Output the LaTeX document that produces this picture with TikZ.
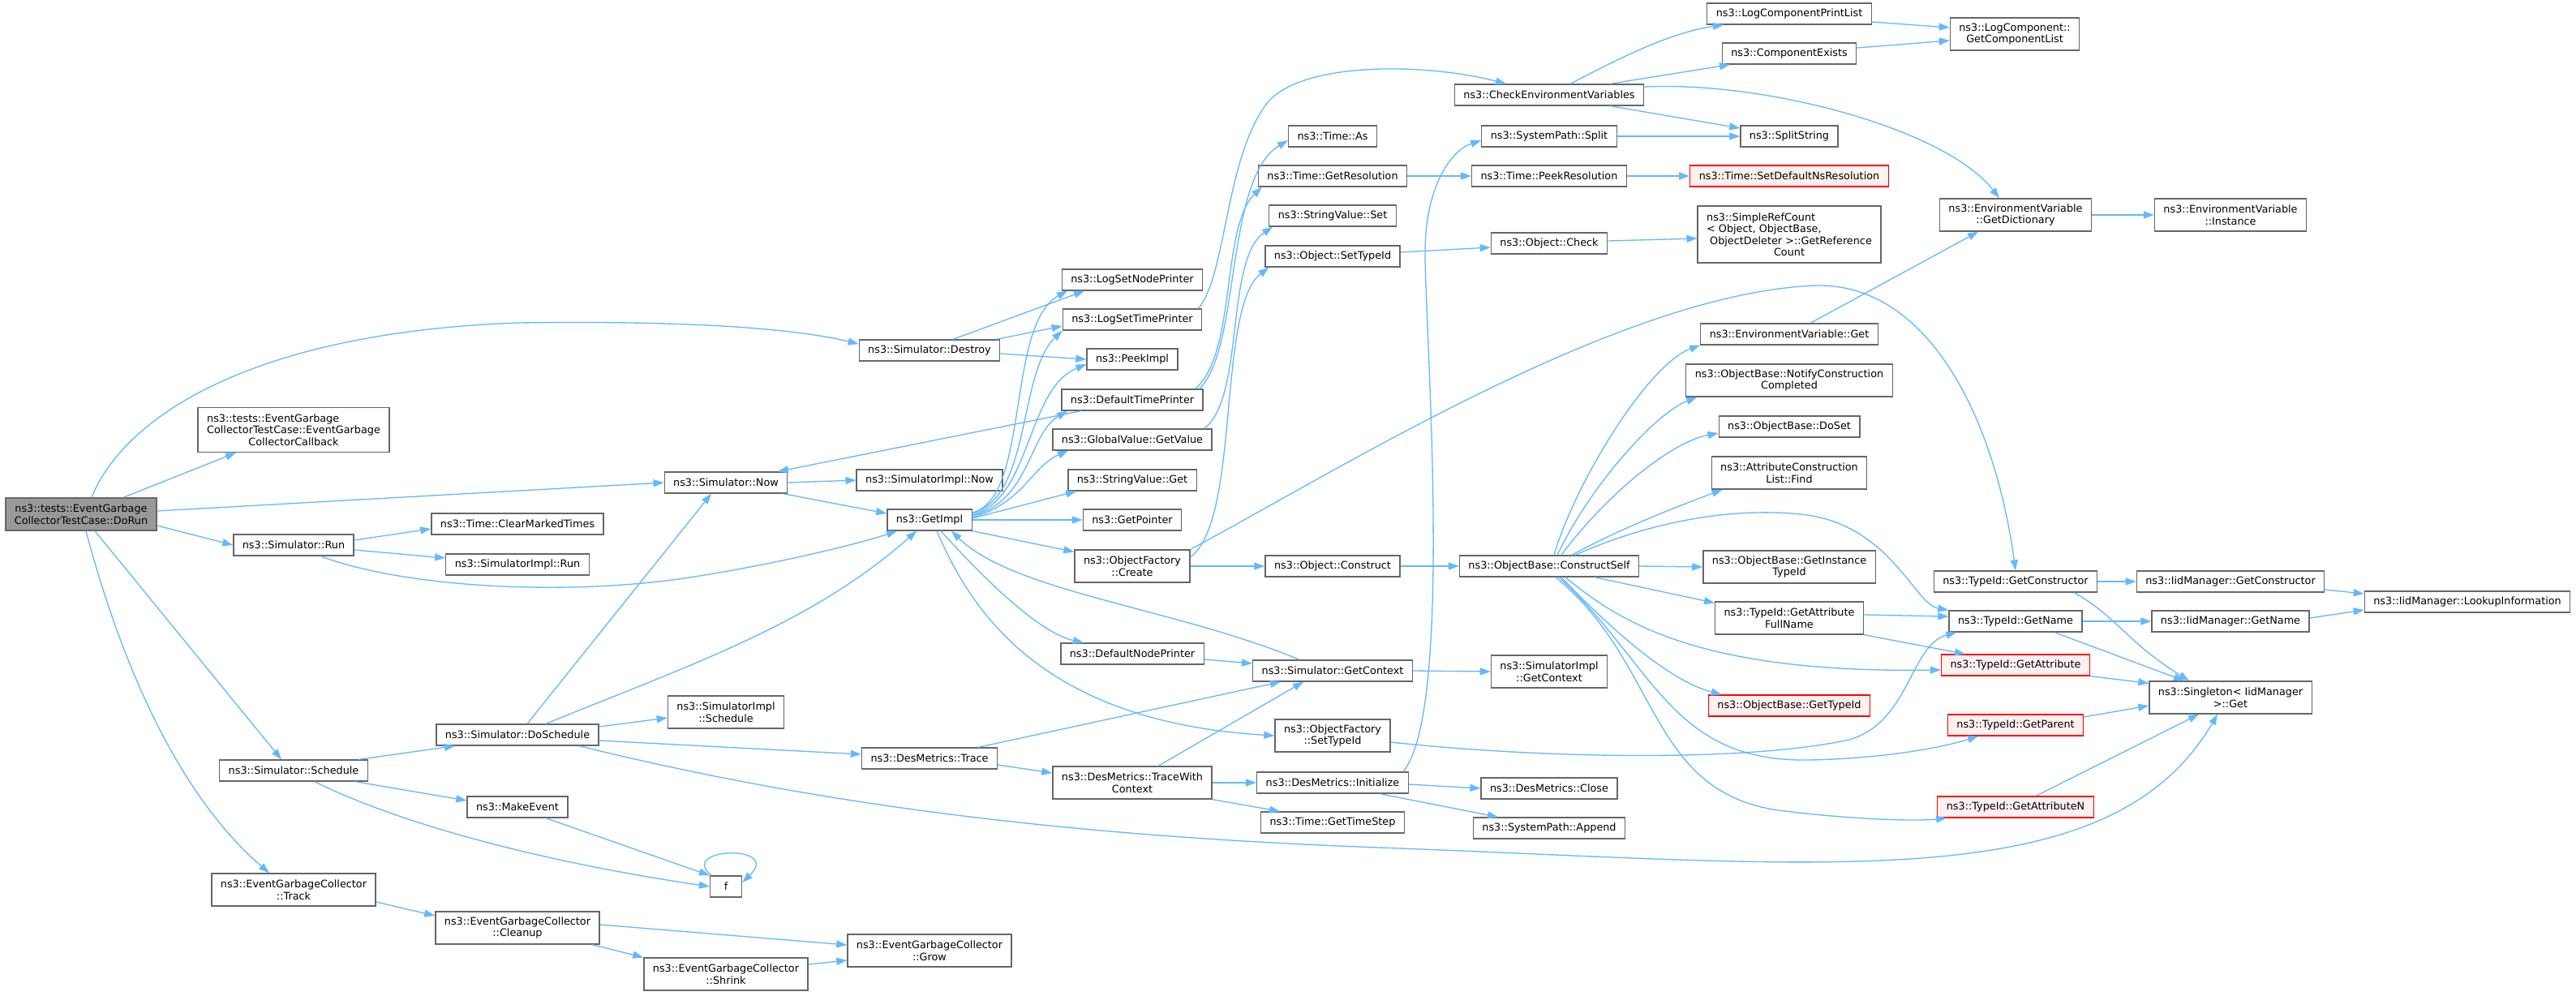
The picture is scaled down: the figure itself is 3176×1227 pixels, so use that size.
\documentclass[tikz,border=0pt]{standalone}
\usepackage{fontspec}
\setmainfont{DejaVu Sans}
\usepackage{xcolor}
\usepackage{tikz}
\usetikzlibrary{arrows.meta}
\definecolor{edgeblue}{HTML}{63B8FF}
\definecolor{boxgray}{HTML}{666666}
\definecolor{rootfill}{HTML}{999999}
\definecolor{missfill}{HTML}{FFF0F0}

\begin{document}
\begin{tikzpicture}[>={Triangle[length=13pt,width=9pt]}, x=1pt, y=-1pt,
	every node/.style={font=\fontsize{12.8}{14.5}\selectfont, align=center},
	fnbox/.style={draw=boxgray, fill=white, line width=1.3pt, inner xsep=11pt, inner ysep=2pt, minimum height=26pt},
	twoline/.style={minimum height=40pt},
	rootbox/.style={fnbox, twoline, fill=rootfill},
	missbox/.style={fnbox, draw=red, fill=missfill},
	callline/.style={->, draw=edgeblue, line width=1.3pt}]
\fill[white] (0,0) rectangle (3176,1227);

\node[rootbox] (DoRun) at (100,634) {ns3::tests::EventGarbage\\CollectorTestCase::DoRun};
\node[fnbox, minimum height=55pt] (Callback) at (362,530) {\begin{tabular}[b]{@{}l@{}}ns3::tests::EventGarbage\\CollectorTestCase::EventGarbage\end{tabular}\\CollectorCallback};
\node[fnbox] (Run) at (362,672) {ns3::Simulator::Run};
\node[fnbox] (Schedule) at (362,950) {ns3::Simulator::Schedule};
\node[fnbox, twoline] (Track) at (362,1097) {ns3::EventGarbageCollector\\::Track};
\node[fnbox] (ClearMarked) at (638,646) {ns3::Time::ClearMarkedTimes};
\node[fnbox] (ImplRun) at (638,696) {ns3::SimulatorImpl::Run};
\node[fnbox] (DoSchedule) at (638,906) {ns3::Simulator::DoSchedule};
\node[fnbox] (MakeEvent) at (638,995) {ns3::MakeEvent};
\node[fnbox, twoline] (Cleanup) at (638,1144) {ns3::EventGarbageCollector\\::Cleanup};
\node[fnbox] (SimNow) at (895,595) {ns3::Simulator::Now};
\node[fnbox, twoline] (ImplSchedule) at (895,878) {ns3::SimulatorImpl\\::Schedule};
\node[fnbox, minimum width=39pt] (F) at (895,1093) {f};
\node[fnbox, twoline] (Shrink) at (895,1201) {ns3::EventGarbageCollector\\::Shrink};
\node[fnbox] (Destroy) at (1146,432) {ns3::Simulator::Destroy};
\node[fnbox] (ImplNow) at (1146,592) {ns3::SimulatorImpl::Now};
\node[fnbox] (GetImpl) at (1146,641) {ns3::GetImpl};
\node[fnbox] (Trace) at (1146,935) {ns3::DesMetrics::Trace};
\node[fnbox, twoline] (Grow) at (1146,1172) {ns3::EventGarbageCollector\\::Grow};
\node[fnbox] (LogNode) at (1396,345) {ns3::LogSetNodePrinter};
\node[fnbox] (LogTime) at (1396,394) {ns3::LogSetTimePrinter};
\node[fnbox] (PeekImpl) at (1396,443) {ns3::PeekImpl};
\node[fnbox] (DefTime) at (1396,493) {ns3::DefaultTimePrinter};
\node[fnbox] (GvGet) at (1396,542) {ns3::GlobalValue::GetValue};
\node[fnbox] (SvGet) at (1396,592) {ns3::StringValue::Get};
\node[fnbox] (GetPointer) at (1396,641) {ns3::GetPointer};
\node[fnbox, twoline] (OfCreate) at (1396,698) {ns3::ObjectFactory\\::Create};
\node[fnbox] (DefNode) at (1396,806) {ns3::DefaultNodePrinter};
\node[fnbox, twoline] (TraceCtx) at (1396,965) {ns3::DesMetrics::TraceWith\\Context};
\node[fnbox] (TimeAs) at (1643,168) {ns3::Time::As};
\node[fnbox] (GetRes) at (1643,217) {ns3::Time::GetResolution};
\node[fnbox] (SvSet) at (1643,266) {ns3::StringValue::Set};
\node[fnbox] (ObjSetTid) at (1643,316) {ns3::Object::SetTypeId};
\node[fnbox] (Construct) at (1643,698) {ns3::Object::Construct};
\node[fnbox] (GetCtx) at (1643,827) {ns3::Simulator::GetContext};
\node[fnbox, twoline] (OfSetTid) at (1643,907) {ns3::ObjectFactory\\::SetTypeId};
\node[fnbox] (Init) at (1643,965) {ns3::DesMetrics::Initialize};
\node[fnbox] (TimeStep) at (1643,1014) {ns3::Time::GetTimeStep};
\node[fnbox] (CheckEnv) at (1910,117) {ns3::CheckEnvironmentVariables};
\node[fnbox] (Split) at (1910,168) {ns3::SystemPath::Split};
\node[fnbox] (PeekRes) at (1910,217) {ns3::Time::PeekResolution};
\node[fnbox] (Check) at (1910,300) {ns3::Object::Check};
\node[fnbox] (CSelf) at (1910,698) {ns3::ObjectBase::ConstructSelf};
\node[fnbox, twoline] (ImplCtx) at (1910,828) {ns3::SimulatorImpl\\::GetContext};
\node[fnbox] (Close) at (1910,972) {ns3::DesMetrics::Close};
\node[fnbox] (Append) at (1910,1021) {ns3::SystemPath::Append};
\node[fnbox] (PrintList) at (2206,17) {ns3::LogComponentPrintList};
\node[fnbox] (CompExists) at (2206,66) {ns3::ComponentExists};
\node[fnbox] (SplitStr) at (2206,168) {ns3::SplitString};
\node[missbox] (SetDefNs) at (2206,217) {ns3::Time::SetDefaultNsResolution};
\node[fnbox, minimum height=70pt] (RefCount) at (2206,289) {\begin{tabular}[b]{@{}l@{}}ns3::SimpleRefCount\\< Object, ObjectBase,\\\ ObjectDeleter >::GetReference\end{tabular}\\Count};
\node[fnbox] (EnvGet) at (2206,412) {ns3::EnvironmentVariable::Get};
\node[fnbox, twoline] (Notify) at (2206,469) {ns3::ObjectBase::NotifyConstruction\\Completed};
\node[fnbox] (DoSet) at (2206,526) {ns3::ObjectBase::DoSet};
\node[fnbox, twoline] (AcFind) at (2206,583) {ns3::AttributeConstruction\\List::Find};
\node[fnbox, twoline] (InstTid) at (2206,699) {ns3::ObjectBase::GetInstance\\TypeId};
\node[fnbox, twoline] (AttrFull) at (2206,762) {ns3::TypeId::GetAttribute\\FullName};
\node[missbox] (ObGetTid) at (2206,870) {ns3::ObjectBase::GetTypeId};
\node[fnbox, twoline] (GetCompList) at (2484,42) {ns3::LogComponent::\\GetComponentList};
\node[fnbox, twoline] (GetDict) at (2485,265) {ns3::EnvironmentVariable\\::GetDictionary};
\node[fnbox] (TGetCtor) at (2485,717) {ns3::TypeId::GetConstructor};
\node[fnbox] (TGetName) at (2485,766) {ns3::TypeId::GetName};
\node[missbox] (TGetAttr) at (2485,820) {ns3::TypeId::GetAttribute};
\node[missbox] (TGetParent) at (2485,894) {ns3::TypeId::GetParent};
\node[missbox] (TGetAttrN) at (2485,995) {ns3::TypeId::GetAttributeN};
\node[fnbox, twoline] (EnvInst) at (2750,265) {ns3::EnvironmentVariable\\::Instance};
\node[fnbox] (IidCtor) at (2750,717) {ns3::IidManager::GetConstructor};
\node[fnbox] (IidName) at (2750,766) {ns3::IidManager::GetName};
\node[fnbox, twoline] (SingletonGet) at (2750,860) {ns3::Singleton< IidManager\\>::Get};
\node[fnbox] (Lookup) at (3042,742) {ns3::IidManager::LookupInformation};

\draw[callline] ([xshift=13pt]DoRun.north) .. controls (150,520) and (300,410) .. (640,398) .. controls (850,395) and (980,405) .. ([yshift=8pt]Destroy.west);
\draw[callline] ([xshift=52pt]DoRun.north) -- ([xshift=-71pt]Callback.south);
\draw[callline] ([yshift=4pt]DoRun.east) -- (SimNow.west);
\draw[callline] ([yshift=-14pt]DoRun.east) -- (Run.west);
\draw[callline] ([xshift=17pt]DoRun.south) -- ([xshift=-15pt]Schedule.north);
\draw[callline] ([xshift=6pt]DoRun.south) .. controls (150,820) and (220,980) .. ([xshift=-30pt]Track.north);
\draw[callline] ([yshift=6pt]Run.east) -- ([yshift=-6pt]ClearMarked.west);
\draw[callline] ([yshift=-6pt]Run.east) -- ([yshift=8pt]ImplRun.west);
\draw[callline] ([xshift=33pt]Run.south) .. controls (500,725) and (700,735) .. (850,712) .. controls (960,695) and (1060,670) .. ([xshift=-40pt]GetImpl.south);
\draw[callline] ([xshift=80pt]Schedule.north) -- ([xshift=-77pt]DoSchedule.south);
\draw[callline] ([xshift=76pt]Schedule.south) -- ([yshift=8pt]MakeEvent.west);
\draw[callline] ([xshift=26pt]Schedule.south) .. controls (480,1010) and (650,1060) .. (F.west);
\draw[callline] ([yshift=-15pt]Track.east) -- ([yshift=15pt]Cleanup.west);
\draw[callline] ([yshift=4pt]Cleanup.east) -- ([yshift=7pt]Grow.west);
\draw[callline] ([xshift=92pt]Cleanup.south) -- (Shrink.north west);
\draw[callline] ([yshift=12pt]Shrink.east) -- ([yshift=-12pt]Grow.west);
\draw[callline] ([xshift=35pt]MakeEvent.south) -- (F.north west);
\draw[callline] ([xshift=2pt]F.north west) .. controls (835,1045) and (965,1040) .. ([yshift=5pt]F.east);
\draw[callline] ([xshift=12pt]DoSchedule.north) -- ([xshift=-18pt]SimNow.south);
\draw[callline] ([xshift=35pt]DoSchedule.north) .. controls (850,820) and (1000,770) .. ([xshift=-16pt]GetImpl.south);
\draw[callline] ([yshift=10pt]DoSchedule.east) -- ([yshift=-7pt]ImplSchedule.west);
\draw[callline] ([yshift=-7pt]DoSchedule.east) -- ([yshift=5pt]Trace.west);
\draw[callline] ([xshift=76pt]DoSchedule.south) .. controls (1000,990) and (1300,1030) .. (1700,1045) .. controls (2250,1065) and (2600,1110) .. ([xshift=-16pt]SingletonGet.south);
\draw[callline] ([xshift=29pt]Destroy.north) -- ([xshift=-59pt]LogNode.south);
\draw[callline] ([xshift=-5pt]Destroy.north east) -- ([yshift=-8pt]LogTime.west);
\draw[callline] ([yshift=-4pt]Destroy.east) -- (PeekImpl.west);
\draw[callline] (SimNow.east) -- (ImplNow.west);
\draw[callline] ([xshift=-6pt]SimNow.south east) -- ([yshift=8pt]GetImpl.west);
\draw[callline] ([xshift=-63pt]DefTime.south) -- ([xshift=64pt]SimNow.north);
\draw[callline] ([yshift=9pt]GetImpl.east) .. controls (1270,615) and (1240,400) .. ([xshift=-80pt]LogNode.south);
\draw[callline] ([yshift=8pt]GetImpl.east) .. controls (1272,612) and (1255,460) .. (LogTime.south west);
\draw[callline] ([yshift=6pt]GetImpl.east) .. controls (1272,615) and (1265,480) .. ([yshift=-6pt]PeekImpl.west);
\draw[callline] ([yshift=5pt]GetImpl.east) .. controls (1270,618) and (1268,535) .. ([xshift=-80pt]DefTime.south);
\draw[callline] ([yshift=3pt]GetImpl.east) .. controls (1262,620) and (1272,575) .. ([xshift=-79pt]GvGet.south);
\draw[callline] ([yshift=2pt]GetImpl.east) -- ([xshift=-69pt]SvGet.south);
\draw[callline] (GetImpl.east) -- (GetPointer.west);
\draw[callline] (GetImpl.south east) -- ([yshift=-3pt]OfCreate.north west);
\draw[callline] ([xshift=14pt]GetImpl.south) .. controls (1210,710) and (1280,780) .. ([xshift=-60pt]DefNode.north);
\draw[callline] ([xshift=9pt]GetImpl.south) .. controls (1200,760) and (1290,890) .. (OfSetTid.west);
\draw[callline] ([xshift=-41pt]GetCtx.north) .. controls (1450,750) and (1250,730) .. ([xshift=27pt]GetImpl.south);
\draw[callline] (OfCreate.east) -- (Construct.west);
\draw[callline] ([yshift=11pt]OfCreate.east) .. controls (1530,640) and (1500,380) .. ([xshift=5pt]ObjSetTid.south west);
\draw[callline] (OfCreate.north east) .. controls (1650,580) and (2000,360) .. (2240,352) .. controls (2380,350) and (2460,520) .. (TGetCtor.north);
\draw[callline] ([xshift=-5pt]DefTime.north east) .. controls (1530,430) and (1510,220) .. ([yshift=-5pt]TimeAs.west);
\draw[callline] ([xshift=-10pt]DefTime.north east) .. controls (1525,435) and (1505,280) .. ([xshift=5pt]GetRes.south west);
\draw[callline] ([xshift=-10pt]GvGet.north east) .. controls (1535,490) and (1510,320) .. ([xshift=5pt]SvSet.south west);
\draw[callline] ([xshift=-5pt]LogTime.north east) .. controls (1512,340) and (1510,200) .. (1560,130) .. controls (1600,74) and (1760,78) .. ([xshift=-53pt]CheckEnv.north);
\draw[callline] ([xshift=26pt]CheckEnv.north) .. controls (2000,70) and (2060,40) .. ([xshift=-81pt]PrintList.south);
\draw[callline] ([xshift=75pt]CheckEnv.north) -- ([xshift=-73pt]CompExists.south);
\draw[callline] ([xshift=75pt]CheckEnv.south) -- ([yshift=10pt]SplitStr.west);
\draw[callline] ([yshift=10pt]CheckEnv.east) .. controls (2180,100) and (2400,160) .. ([xshift=-20pt]GetDict.north);
\draw[callline] (Split.east) -- (SplitStr.west);
\draw[callline] (GetRes.east) -- (PeekRes.west);
\draw[callline] (PeekRes.east) -- (SetDefNs.west);
\draw[callline] ([yshift=5pt]ObjSetTid.east) -- ([yshift=-5pt]Check.west);
\draw[callline] ([yshift=3pt]Check.east) -- ([yshift=-5pt]RefCount.west);
\draw[callline] ([yshift=-10pt]PrintList.east) -- ([yshift=8pt]GetCompList.west);
\draw[callline] ([yshift=7pt]CompExists.east) -- ([yshift=-8pt]GetCompList.west);
\draw[callline] (GetDict.east) -- (EnvInst.west);
\draw[callline] ([xshift=26pt]EnvGet.north) -- ([xshift=-46pt]GetDict.south);
\draw[callline] (Construct.east) -- (CSelf.west);
\draw[callline] ([xshift=6pt]CSelf.north) .. controls (1940,600) and (2030,450) .. (EnvGet.south west);
\draw[callline] ([xshift=10pt]CSelf.north) .. controls (1960,600) and (2040,510) .. ([xshift=14pt]Notify.south west);
\draw[callline] ([xshift=15pt]CSelf.north) .. controls (1980,610) and (2060,545) .. ([yshift=-8pt]DoSet.west);
\draw[callline] ([xshift=28pt]CSelf.north) .. controls (2000,650) and (2080,620) .. ([xshift=14pt]AcFind.south west);
\draw[callline] ([xshift=32pt]CSelf.north) .. controls (2030,645) and (2130,625) .. (2220,634) .. controls (2330,645) and (2360,745) .. (TGetName.north west);
\draw[callline] (CSelf.east) -- (InstTid.west);
\draw[callline] ([xshift=56pt]CSelf.south) -- ([yshift=-2pt]AttrFull.north west);
\draw[callline] ([xshift=20pt]CSelf.south) .. controls (2000,770) and (2100,830) .. ([yshift=-6pt]TGetAttr.west);
\draw[callline] ([xshift=15pt]CSelf.south) .. controls (1990,780) and (2060,840) .. ([xshift=17pt]ObGetTid.north west);
\draw[callline] ([xshift=12pt]CSelf.south) .. controls (2040,820) and (2060,940) .. (2230,937) .. controls (2330,935) and (2400,920) .. ([xshift=-46pt]TGetParent.south);
\draw[callline] ([xshift=8pt]CSelf.south) .. controls (2050,820) and (2030,980) .. (2200,1000) .. controls (2300,1012) and (2370,1012) .. ([xshift=12pt]TGetAttrN.south west);
\draw[callline] ([yshift=-8pt]OfSetTid.east) .. controls (1900,935) and (2150,940) .. (2280,912) .. controls (2355,890) and (2355,795) .. ([xshift=10pt]TGetName.south west);
\draw[callline] ([yshift=4pt]AttrFull.east) -- ([yshift=6pt]TGetName.west);
\draw[callline] (AttrFull.south east) -- ([xshift=30pt]TGetAttr.north west);
\draw[callline] (TGetCtor.east) -- (IidCtor.west);
\draw[callline] ([xshift=72pt]TGetCtor.south) .. controls (2610,760) and (2620,790) .. ([xshift=-51pt]SingletonGet.north);
\draw[callline] (TGetName.east) -- (IidName.west);
\draw[callline] ([xshift=48pt]TGetName.south) -- ([xshift=-57pt]SingletonGet.north);
\draw[callline] ([yshift=-10pt]IidCtor.east) -- ([yshift=10pt]Lookup.west);
\draw[callline] ([yshift=4pt]IidName.east) -- ([yshift=-10pt]Lookup.west);
\draw[callline] (TGetAttr.south east) -- ([yshift=-3pt]SingletonGet.north west);
\draw[callline] ([yshift=10pt]TGetParent.east) -- ([yshift=-10pt]SingletonGet.west);
\draw[callline] ([xshift=25pt]TGetAttrN.north) -- ([xshift=-39pt]SingletonGet.south);
\draw[callline] (GetCtx.east) -- (ImplCtx.west);
\draw[callline] ([yshift=-7pt]DefNode.east) -- ([yshift=9pt]GetCtx.west);
\draw[callline] ([xshift=60pt]Trace.north) -- ([xshift=-64pt]GetCtx.south);
\draw[callline] ([xshift=32pt]TraceCtx.north) -- ([xshift=-36pt]GetCtx.south);
\draw[callline] ([yshift=-8pt]Trace.east) -- ([yshift=12pt]TraceCtx.west);
\draw[callline] (TraceCtx.east) -- (Init.west);
\draw[callline] (TraceCtx.south east) -- ([xshift=-65pt]TimeStep.north);
\draw[callline] ([yshift=-2pt]Init.east) -- (Close.west);
\draw[callline] ([xshift=58pt]Init.south) -- ([xshift=-63pt]Append.north);
\draw[callline] ([xshift=87pt]Init.north) .. controls (1790,880) and (1760,450) .. (1757,320) .. controls (1755,230) and (1790,185) .. ([yshift=-5pt]Split.west);
\end{tikzpicture}
\end{document}
